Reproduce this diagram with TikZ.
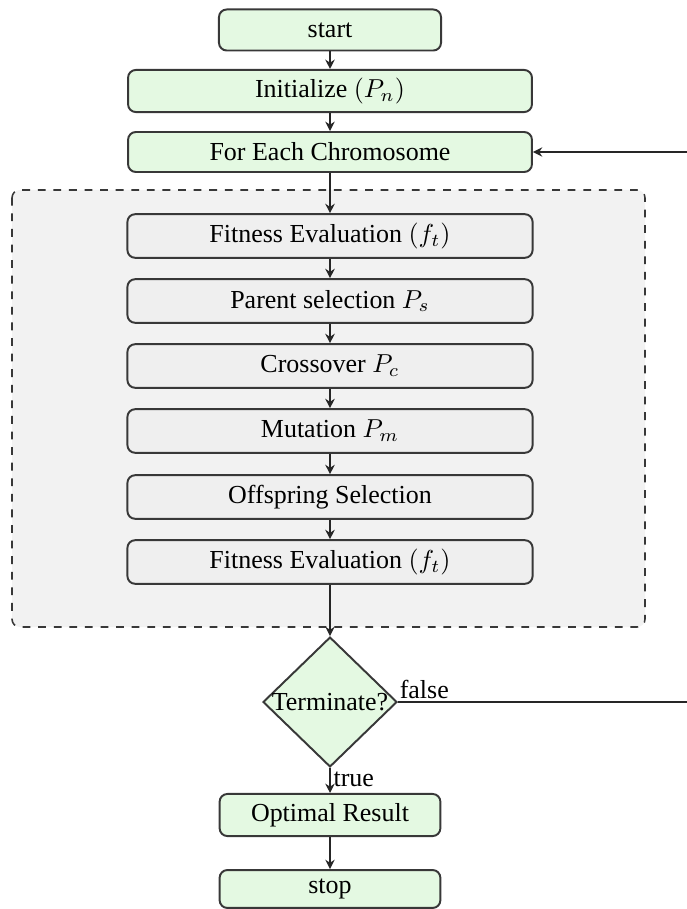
\documentclass[tikz,border=0pt]{standalone}
\usepackage{fontspec}
\setmainfont{Liberation Serif}
\usetikzlibrary{shapes.geometric,arrows.meta}
\definecolor{mint}{HTML}{E4F9E2}
\definecolor{panel}{HTML}{F2F2F2}
\definecolor{boxgray}{HTML}{EFEFEF}
\definecolor{edge}{HTML}{383838}
\tikzset{
  greenbox/.style={draw=edge, fill=mint, rounded corners=3pt, line width=0.75pt, inner sep=0pt, font=\fontsize{10}{12}\selectfont},
  graybox/.style={draw=edge, fill=boxgray, rounded corners=3pt, line width=0.75pt, inner sep=0pt, minimum width=156pt, minimum height=16.8pt, font=\fontsize{10}{12}\selectfont},
  conn/.style={draw=black!85, line width=0.75pt, -{Stealth[length=3.6pt,width=3.6pt]}},
  plain/.style={draw=black!85, line width=0.75pt},
  dia/.style={shape=diamond, draw=edge, fill=mint, line width=0.75pt, inner sep=0pt, minimum width=51.6pt, minimum height=50pt},
  lbl/.style={font=\fontsize{10}{12}\selectfont, inner sep=1pt}
}
\begin{document}
\begin{tikzpicture}[x=0.385pt,y=-0.385pt]
\useasboundingbox (0,0) rectangle (686,909);
% dashed panel
\draw[dashed, draw=edge, fill=panel, rounded corners=3pt, line width=0.6pt] (12,190) rectangle (645,627);
% top boxes
\node[greenbox, minimum width=85.5pt, minimum height=15.8pt] (start) at (330,30) {start};
\node[greenbox, minimum width=155.5pt, minimum height=16.2pt] (init) at (330,91) {Initialize $(P_n)$};
\node[greenbox, minimum width=155.5pt, minimum height=15.4pt] (each) at (330,152) {For Each Chromosome};
% inner boxes
\node[graybox] (fit1) at (330,236) {Fitness Evaluation $(f_t)$};
\node[graybox] (par) at (330,301) {Parent selection $P_s$};
\node[graybox] (cross) at (330,366) {Crossover $P_c$};
\node[graybox] (mut) at (330,431) {Mutation $P_m$};
\node[graybox] (off) at (330,497) {Offspring Selection};
\node[graybox] (fit2) at (330,562) {Fitness Evaluation $(f_t)$};
% decision
\node[dia, label={[lbl]center:Terminate?}] (term) at (330,702) {};
% bottom boxes
\node[greenbox, minimum width=85pt, minimum height=16.2pt] (opt) at (330,815) {Optimal Result};
\node[greenbox, minimum width=85pt, minimum height=14.6pt] (stop) at (330,889) {stop};
% free ends at the right edge
\coordinate (rtop) at (690,152);
\coordinate (rbot) at (term.east -| rtop);
% connectors
\draw[conn] (start) -- (init);
\draw[conn] (init) -- (each);
\draw[conn] (each) -- (fit1);
\draw[conn] (fit1) -- (par);
\draw[conn] (par) -- (cross);
\draw[conn] (cross) -- (mut);
\draw[conn] (mut) -- (off);
\draw[conn] (off) -- (fit2);
\draw[conn] (fit2) -- (term);
\draw[conn] (term) -- node[lbl, right, pos=0.45] {true} (opt);
\draw[conn] (opt) -- (stop);
\draw[plain] (term.east) -- node[lbl, above, pos=0.09] {false} (rbot);
\draw[conn] (rtop) -- (each);
\end{tikzpicture}
\end{document}
